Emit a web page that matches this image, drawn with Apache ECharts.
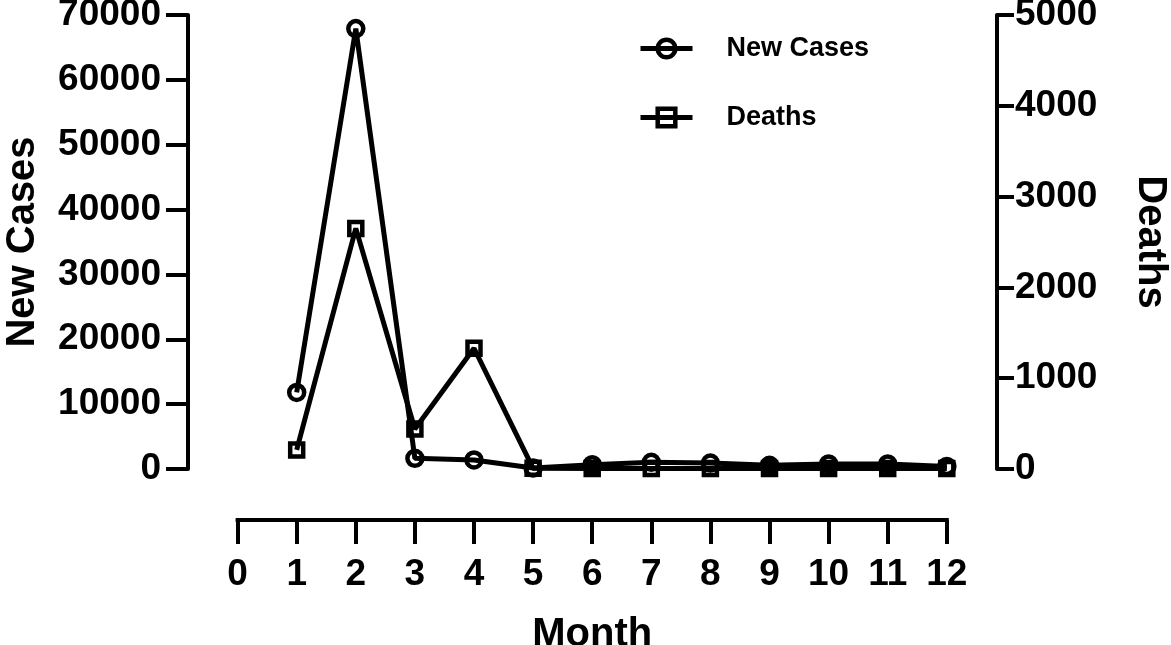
<!DOCTYPE html>
<html>
<head>
<meta charset="utf-8">
<script src="https://cdn.jsdelivr.net/npm/echarts@6/dist/echarts.min.js"></script>
<style>
html,body{margin:0;padding:0;background:#fff;}
#chart{width:1171px;height:645px;}
</style>
</head>
<body>
<div id="chart"></div>
<script>
const months = [1, 2, 3, 4, 5, 6, 7, 8, 9, 10, 11, 12];
const newCases = [11800, 67900, 1650, 1400, 150, 660, 1030, 920, 570, 770, 770, 400];
const deaths = [210, 2650, 440, 1330, 8, 6, 6, 6, 6, 6, 6, 6];
const seriesNames = ['New Cases', 'Deaths'];
const axisTitles = { x: 'Month', yLeft: 'New Cases', yRight: 'Deaths' };

const FONT = "'Liberation Sans', Arial, Helvetica, sans-serif";

const toPairs = (xs, ys) => xs.map((x, i) => [x, ys[i]]);
const plain = v => String(v);

const chart = echarts.init(document.getElementById('chart'), null, { renderer: 'canvas' });

const option = {
  backgroundColor: '#fff',
  animation: false,
  grid: [
    { left: 188, right: 174, top: 15, bottom: 176, containLabel: false, outerBoundsMode: 'none' },
    { left: 237.6, right: 224.2, top: 519, height: 1, containLabel: false, outerBoundsMode: 'none' }
  ],
  legend: {
    orient: 'vertical',
    left: 633,
    top: 30,
    itemWidth: 52,
    itemHeight: 22,
    itemGap: 42,
    data: seriesNames,
    lineStyle: { width: 5, color: '#000' },
    itemStyle: { borderWidth: 4.5, borderColor: '#000', color: 'rgba(255,255,255,0)' },
    textStyle: {
      fontFamily: FONT, fontWeight: 'bold', fontSize: 27, color: '#000',
      padding: [0, 0, 0, 29]
    }
  },
  xAxis: [
    { type: 'value', gridIndex: 0, min: -0.839, max: 12.849, show: false },
    {
      type: 'value', gridIndex: 1, min: 0, max: 12, interval: 1, position: 'bottom',
      name: axisTitles.x, nameLocation: 'middle', nameGap: 95, nameMoveOverlap: false,
      nameTextStyle: { fontFamily: FONT, fontWeight: 'bold', fontSize: 40, color: '#000' },
      axisLine: { show: true, onZero: false, lineStyle: { color: '#000', width: 4, cap: 'square' } },
      axisTick: { show: true, length: 24, lineStyle: { color: '#000', width: 4 } },
      axisLabel: { margin: 36, fontFamily: FONT, fontWeight: 'bold', fontSize: 37, color: '#000', hideOverlap: false },
      splitLine: { show: false }
    }
  ],
  yAxis: [
    {
      type: 'value', gridIndex: 0, position: 'left', min: 0, max: 70000, interval: 10000,
      name: axisTitles.yLeft, nameLocation: 'middle', nameGap: 145, nameRotate: 90, nameMoveOverlap: false,
      nameTextStyle: { fontFamily: FONT, fontWeight: 'bold', fontSize: 40, color: '#000' },
      axisLine: { show: true, onZero: false, lineStyle: { color: '#000', width: 4 } },
      axisTick: { show: true, length: 22, lineStyle: { color: '#000', width: 4 } },
      axisLabel: { margin: 27, fontFamily: FONT, fontWeight: 'bold', fontSize: 37, color: '#000', formatter: plain },
      splitLine: { show: false }
    },
    {
      type: 'value', gridIndex: 0, position: 'right', min: 0, max: 5000, interval: 1000,
      name: axisTitles.yRight, nameLocation: 'middle', nameGap: 133, nameRotate: -90, nameMoveOverlap: false,
      nameTextStyle: { fontFamily: FONT, fontWeight: 'bold', fontSize: 40, color: '#000' },
      axisLine: { show: true, onZero: false, lineStyle: { color: '#000', width: 4 } },
      axisTick: { show: true, length: 17, lineStyle: { color: '#000', width: 4 } },
      axisLabel: { margin: 18, fontFamily: FONT, fontWeight: 'bold', fontSize: 37, color: '#000', formatter: plain },
      splitLine: { show: false }
    },
    { type: 'value', gridIndex: 1, show: false, min: 0, max: 1 }
  ],
  series: [
    {
      name: seriesNames[0], type: 'line', xAxisIndex: 0, yAxisIndex: 0,
      data: toPairs(months, newCases),
      symbol: 'circle', symbolSize: 15, showAllSymbol: true,
      lineStyle: { color: '#000', width: 5 },
      itemStyle: { color: 'rgba(255,255,255,0)', borderColor: '#000', borderWidth: 4.5 },
      z: 3
    },
    {
      name: seriesNames[1], type: 'line', xAxisIndex: 0, yAxisIndex: 1,
      data: toPairs(months, deaths),
      symbol: 'rect', symbolSize: 13, showAllSymbol: true,
      lineStyle: { color: '#000', width: 5 },
      itemStyle: { color: 'rgba(255,255,255,0)', borderColor: '#000', borderWidth: 4.5 },
      z: 2
    }
  ]
};
chart.setOption(option);
</script>
</body>
</html>
